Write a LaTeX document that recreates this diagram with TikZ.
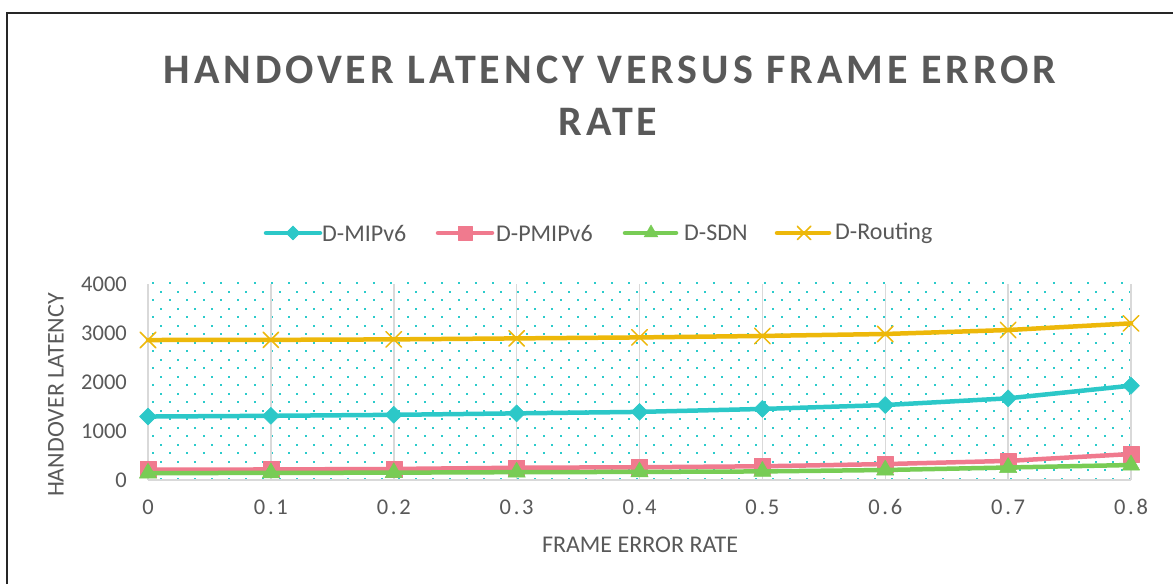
\documentclass[tikz,border=0pt]{standalone}
\usepackage{fontspec}
\setmainfont{Carlito}
\newfontfamily\titlefont{Carlito}[LetterSpace=9.4]
\newfontfamily\tickfont{Carlito}[LetterSpace=12]
\usepackage{xcolor}
\usetikzlibrary{plotmarks}
\definecolor{txtgray}{HTML}{595959}
\definecolor{gridgray}{HTML}{D9D9D9}
\definecolor{dotcol}{HTML}{2CCBCB}
\definecolor{mipcol}{HTML}{2CC8C8}
\definecolor{pmipcol}{HTML}{F07A8E}
\definecolor{sdncol}{HTML}{78CC55}
\definecolor{routcol}{HTML}{EDB80A}
\tikzset{>=latex,
  series/.style={line width=4.5pt, line join=round, line cap=round},
  mipv6/.style={series, mipcol, mark=square*, mark size=6pt,
    mark options={solid, rotate=45, fill=mipcol, line width=0.5pt}},
  pmipv6/.style={series, pmipcol, mark=square*, mark size=8pt,
    mark options={solid, fill=pmipcol, line width=0.5pt}},
  sdn/.style={series, sdncol, mark=triangle*, mark size=10pt,
    mark options={solid, fill=sdncol, line width=0.5pt}},
  routing/.style={series, routcol, mark=x, mark size=11pt,
    mark options={solid, line width=1.5pt}},
  ticklabel/.style={text=txtgray, font=\fontsize{22.5}{26}\selectfont, inner sep=0pt},
  axistitle/.style={text=txtgray, font=\fontsize{24}{28}\selectfont, inner sep=0pt},
  legendtext/.style={text=txtgray, font=\fontsize{24}{28}\selectfont, inner sep=0pt, anchor=west}
}

\begin{document}
\begin{tikzpicture}[x=1pt, y=1pt]
\useasboundingbox (0,0) rectangle (1173,584);
\fill[white] (0,0) rectangle (1173,584);

% chart frame
\draw[line width=1.5pt, black!85] (7,0) -- (7,571) -- (1173,571);

% title
\node[text=txtgray, font=\titlefont\bfseries\fontsize{42}{50}\selectfont, anchor=base, inner sep=0pt]
  (title1) at (610,500) {HANDOVER LATENCY VERSUS FRAME ERROR};
\node[text=txtgray, font=\titlefont\bfseries\fontsize{42}{50}\selectfont, anchor=base, inner sep=0pt]
  (title2) at (608,448) {RATE};

% legend
\draw[mipv6, mark size=5pt] (266,351) -- (320,351);
\draw[mipv6, mark size=5pt] plot coordinates {(293,351)};
\node[legendtext] (legmip) at (322,351) {D-MIPv6};
\draw[pmipv6, mark size=7pt] (438,351) -- (492,351);
\draw[pmipv6, mark size=7pt] plot coordinates {(465,351)};
\node[legendtext] (legpmip) at (496,351) {D-PMIPv6};
\draw[sdn, mark size=8pt] (625,351) -- (676,351);
\draw[sdn, mark size=8pt] plot coordinates {(651,351)};
\node[legendtext] (legsdn) at (684,351) {D-SDN};
\draw[routing, mark size=9.5pt] (777,351) -- (829,351);
\draw[routing, mark size=9.5pt] plot coordinates {(804,351)};
\node[legendtext] (legrout) at (835,351) {D-Routing};

% dotted plot area
\foreach \r in {0,...,23}
  \foreach \c in {0,...,57}
    \fill[dotcol] ({152.5+8.5*mod(\r,2)+17*\c-1}, {300.5-8.5*\r-1}) rectangle ++(2,2);

% plot area in data units: x = step of 0.1, y = latency
\begin{scope}[shift={(148,104)}, x=122.875pt, y=0.049pt]
  % vertical grid and axis
  \foreach \i in {0,...,8}
    \draw[gridgray, line width=1.5pt] (\i,0) -- (\i,4000);
  \draw[gridgray, line width=1.5pt] (0,0) -- (8,0);

  % tick labels
  \foreach \v in {0,1000,2000,3000,4000}
    \node[ticklabel, anchor=east, xshift=-21pt] (ytick\v) at (0,\v) {\v};
  \foreach \i/\t in {0/0,1/0.1,2/0.2,3/0.3,4/0.4,5/0.5,6/0.6,7/0.7,8/0.8}
    \node[ticklabel, font=\tickfont\fontsize{22.5}{26}\selectfont, yshift=-27pt] (xtick\i) at (\i,0) {\t};

  % series
  \draw[mipv6] plot coordinates {(0,1295) (1,1310) (2,1330) (3,1360) (4,1390) (5,1450) (6,1530) (7,1667) (8,1925)};
  \draw[pmipv6] plot coordinates {(0,210) (1,215) (2,225) (3,250) (4,260) (5,280) (6,325) (7,390) (8,530)};
  \draw[sdn] plot coordinates {(0,140) (1,145) (2,150) (3,160) (4,165) (5,175) (6,204) (7,255) (8,306)};
  \draw[routing] plot coordinates {(0,2857) (1,2860) (2,2870) (3,2890) (4,2910) (5,2940) (6,2980) (7,3061) (8,3197)};
\end{scope}

% axis titles
\node[axistitle] (xlabel) at (640,39) {FRAME ERROR RATE};
\node[axistitle, rotate=90] (ylabel) at (56,189) {HANDOVER LATENCY};
\end{tikzpicture}
\end{document}
